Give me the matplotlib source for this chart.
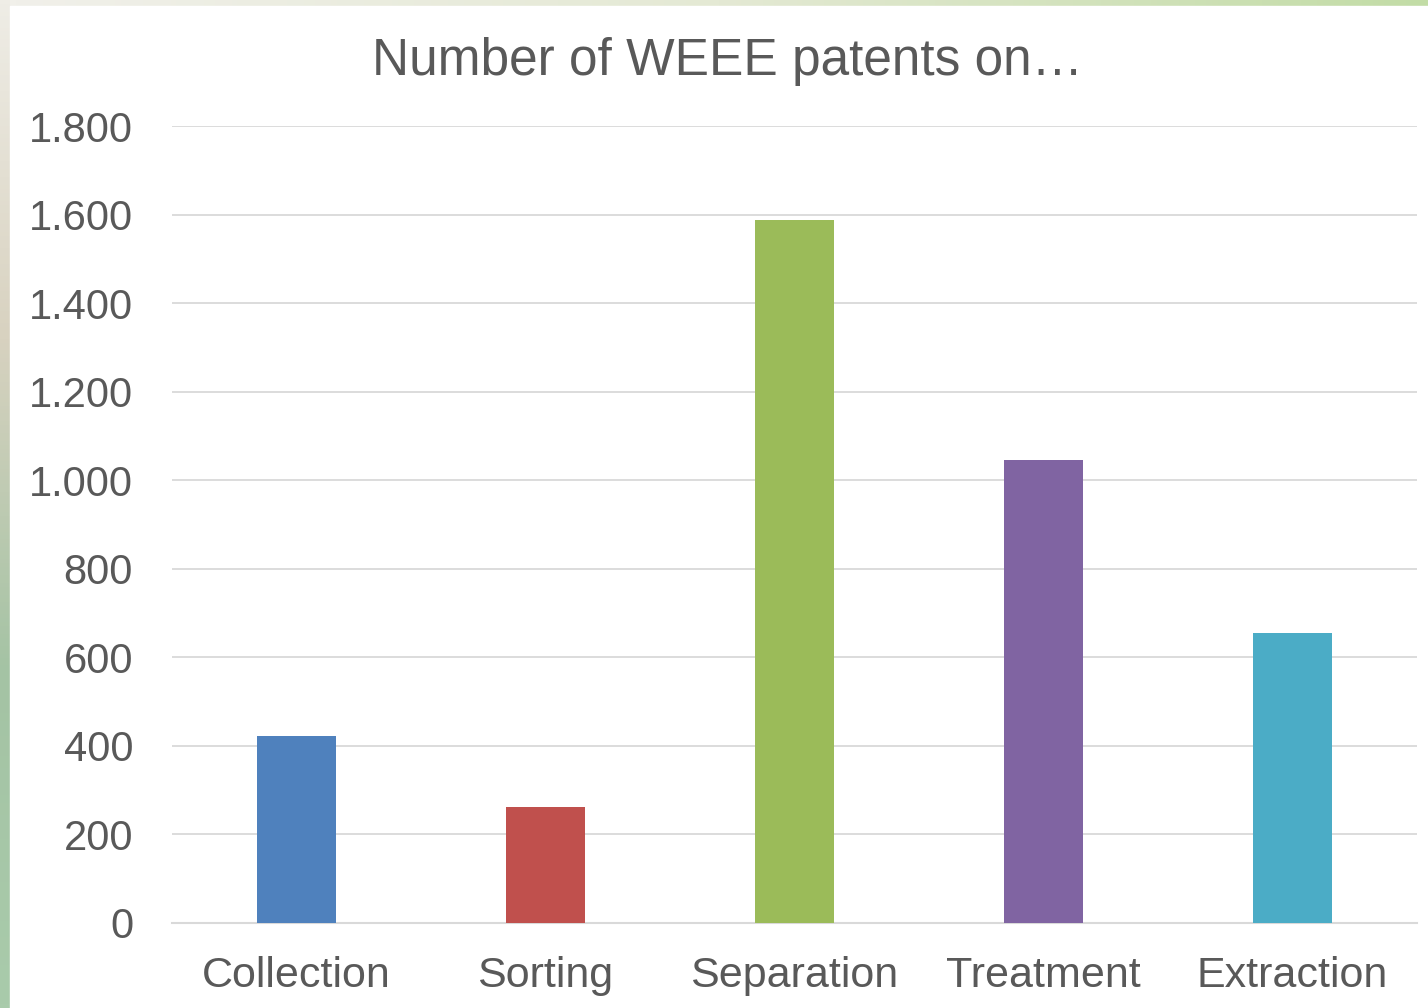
import numpy as np
import matplotlib
matplotlib.use("Agg")
import matplotlib.pyplot as plt
from matplotlib.colors import LinearSegmentedColormap

categories = ["Collection", "Sorting", "Separation", "Treatment", "Extraction"]
patents = [422, 262, 1588, 1046, 654]
bar_colors = ["#4f81bd", "#c0504d", "#9bbb59", "#8064a2", "#4bacc6"]
y_ticks = [0, 200, 400, 600, 800, 1000, 1200, 1400, 1600, 1800]
y_tick_labels = ["0", "200", "400", "600", "800", "1.000", "1.200", "1.400", "1.600", "1.800"]
title = "Number of WEEE patents on\u2026"

plt.rcParams["font.family"] = ["Liberation Sans", "DejaVu Sans"]
TXT = "#595959"

W, H = 1428, 1008
fig = plt.figure(figsize=(W / 100, H / 100), dpi=100)

# decorative border strips (slide background showing through)
bg = fig.add_axes([0, 0, 1, 1], zorder=-10)
bg.set_xlim(0, W); bg.set_ylim(H, 0); bg.axis("off")
left_cmap = LinearSegmentedColormap.from_list("l", ["#efede6", "#d8d2c0", "#a4c3a4", "#a9cbab"])
top_cmap = LinearSegmentedColormap.from_list("t", ["#f1f0ea", "#e4e9d4", "#c2dca6"])
bg.imshow(np.linspace(0, 1, 256)[:, None], cmap=left_cmap, extent=[0, 10, H, 0], aspect="auto")
bg.imshow(np.linspace(0, 1, 256)[None, :], cmap=top_cmap, extent=[10, W, 6, 0], aspect="auto")
bg.add_patch(plt.Rectangle((10, 6), W - 10, H - 6, color="white"))
bg.set_xlim(0, W); bg.set_ylim(H, 0)

ax = fig.add_axes([172 / W, 1 - 923 / H, (1417 - 172) / W, (923 - 126) / H])
ax.patch.set_alpha(0)
x = np.arange(len(categories))
ax.bar(x, patents, width=0.317, color=bar_colors, zorder=3)
ax.set_xlim(-0.5, len(categories) - 0.5)
ax.set_ylim(0, 1800)
ax.set_yticks(y_ticks)
ax.set_yticklabels(y_tick_labels)
ax.set_xticks(x)
ax.set_xticklabels(categories)
ax.grid(axis="y", color="#d9d9d9", linewidth=1.3, zorder=0)
for s in ["top", "right", "left"]:
    ax.spines[s].set_visible(False)
ax.spines["bottom"].set_color("#d9d9d9")
ax.spines["bottom"].set_linewidth(1.5)
ax.tick_params(axis="y", length=0, labelsize=30, labelcolor=TXT, pad=28)
ax.tick_params(axis="x", length=0, labelsize=31, labelcolor=TXT, pad=24)

fig.text(728 / W, 1 - 75 / H, title, ha="center", va="baseline", fontsize=37, color=TXT)

fig.savefig("out.png", dpi=100)
